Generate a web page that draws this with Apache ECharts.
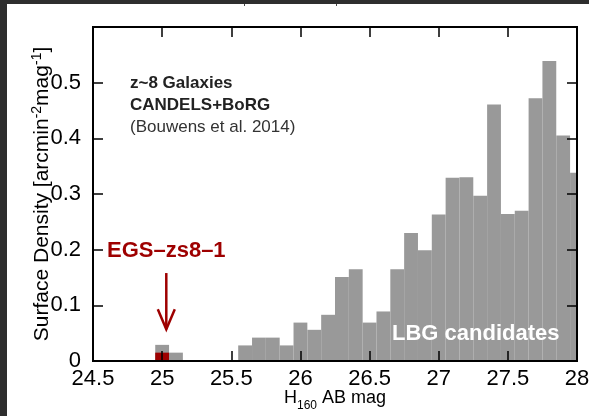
<!DOCTYPE html>
<html>
<head>
<meta charset="utf-8">
<script src="https://cdn.jsdelivr.net/npm/echarts@6/dist/echarts.min.js"></script>
<style>
  html, body { margin: 0; padding: 0; background: #ffffff; }
  #chart { width: 589px; height: 416px; }
</style>
</head>
<body>
<div id="chart"></div>
<script>
// Surface density of z~8 LBG candidates per 0.1 mag bin (CANDELS+BoRG)
const lbgMag = [25.0, 25.1, 25.6, 25.7, 25.8, 25.9, 26.0, 26.1, 26.2, 26.3, 26.4, 26.5, 26.6,
                26.7, 26.8, 26.9, 27.0, 27.1, 27.2, 27.3, 27.4, 27.5, 27.6, 27.7, 27.8, 27.9, 28.0];
const lbgDensity = [0.029, 0.015, 0.028, 0.042, 0.042, 0.028, 0.069, 0.056, 0.083, 0.151, 0.165, 0.069, 0.089,
                    0.165, 0.230, 0.199, 0.263, 0.329, 0.330, 0.297, 0.461, 0.264, 0.270, 0.472, 0.539, 0.405, 0.338];

// EGS-zs8-1 bin
const egsMag = [25.0];
const egsDensity = [0.015];

// Arrow pointing at EGS-zs8-1: [mag, density] start and end
const arrowFrom = [25.03, 0.158];
const arrowTo = [25.03, 0.057];
const egsLabelAt = [25.03, 0.198];

const binWidth = 0.1;
const xRange = [24.5, 28];
const xStep = 0.5;
const yRange = [0, 0.6];
const yStep = 0.1;

const FONT = "'Liberation Sans', Arial, Helvetica, sans-serif";
const RED = '#9e0000';
const GREY = '#999999';

function histogram(color) {
  return function (params, api) {
    const x = api.value(0);
    const y = api.value(1);
    const p0 = api.coord([x - binWidth / 2, y]);
    const p1 = api.coord([x + binWidth / 2, 0]);
    const cs = params.coordSys;
    const shape = echarts.graphic.clipRectByRect(
      { x: p0[0], y: p0[1], width: p1[0] - p0[0], height: p1[1] - p0[1] },
      { x: cs.x, y: cs.y, width: cs.width, height: cs.height }
    );
    return shape && { type: 'rect', shape: shape, style: { fill: color } };
  };
}

function arrowItem(params, api) {
  const a = api.coord(arrowFrom);
  const b = api.coord(arrowTo);
  const t = api.coord(egsLabelAt);
  const head = 20, wing = 8.5;
  return {
    type: 'group',
    children: [
      { type: 'line', shape: { x1: a[0], y1: a[1], x2: b[0], y2: b[1] },
        style: { stroke: RED, lineWidth: 2.5 } },
      { type: 'polyline', shape: { points: [[b[0] - wing, b[1] - head], [b[0], b[1]], [b[0] + wing, b[1] - head]] },
        style: { stroke: RED, lineWidth: 2.5, fill: null } },
      { type: 'text', x: t[0], y: t[1],
        style: { text: 'EGS\u2013zs8\u20131', fill: RED, font: 'bold 22px ' + FONT, align: 'center', verticalAlign: 'middle' } }
    ]
  };
}

const axisCommon = {
  axisLine: { show: true, onZero: false, lineStyle: { color: '#000', width: 2 } },
  axisTick: { show: true, inside: true, length: 10, lineStyle: { color: '#000', width: 1.5 } },
  splitLine: { show: false },
  nameMoveOverlap: false,
  z: 10
};

const chart = echarts.init(document.getElementById('chart'), null, { renderer: 'canvas' });

chart.setOption({
  animation: false,
  backgroundColor: '#ffffff',
  grid: {
    left: 93, right: 12, top: 27, bottom: 55, outerBoundsMode: 'none', containLabel: false,
    show: true, borderColor: '#000', borderWidth: 2, backgroundColor: 'transparent'
  },
  xAxis: [
    Object.assign({}, axisCommon, {
      type: 'value', min: xRange[0], max: xRange[1], interval: xStep, position: 'bottom',
      axisLabel: { color: '#000', fontSize: 22, fontFamily: FONT, margin: 7 },
      name: '{t|H}{s|160}{t| AB mag}', nameLocation: 'middle', nameGap: 28,
      nameTextStyle: {
        rich: {
          t: { fontSize: 18, fontFamily: FONT, color: '#000', lineHeight: 23, verticalAlign: 'top' },
          s: { fontSize: 12, fontFamily: FONT, color: '#000', lineHeight: 12, verticalAlign: 'bottom' }
        }
      }
    }),
    Object.assign({}, axisCommon, {
      type: 'value', min: xRange[0], max: xRange[1], interval: xStep, position: 'top',
      axisLabel: { show: false }
    })
  ],
  yAxis: [
    Object.assign({}, axisCommon, {
      type: 'value', min: yRange[0], max: yRange[1], interval: yStep, position: 'left',
      axisLabel: { color: '#000', fontSize: 22, fontFamily: FONT, margin: 12, showMaxLabel: false, verticalAlignMinLabel: 'middle' },
      name: '{t|Surface Density [arcmin}{s|-2}{t|mag}{s|-1}{t|]}', nameLocation: 'middle', nameGap: 40, nameRotate: 90,
      nameTextStyle: {
        rich: {
          t: { fontSize: 21, fontFamily: FONT, color: '#000', lineHeight: 23, verticalAlign: 'bottom' },
          s: { fontSize: 14, fontFamily: FONT, color: '#000', lineHeight: 14, verticalAlign: 'top' }
        }
      }
    }),
    Object.assign({}, axisCommon, {
      type: 'value', min: yRange[0], max: yRange[1], interval: yStep, position: 'right',
      axisLabel: { show: false }
    })
  ],
  series: [
    {
      type: 'custom', name: 'LBG candidates', renderItem: histogram(GREY), z: 2,
      data: lbgMag.map((m, i) => [m, lbgDensity[i]])
    },
    {
      type: 'custom', name: 'EGS-zs8-1', renderItem: histogram(RED), z: 3,
      data: egsMag.map((m, i) => [m, egsDensity[i]])
    },
    {
      type: 'custom', name: 'arrow', renderItem: arrowItem, z: 4, silent: true,
      data: [[arrowFrom[0], arrowFrom[1]]]
    }
  ],
  graphic: [
    { type: 'text', left: 130, top: 75, z: 20,
      style: { text: 'z~8 Galaxies', fill: '#222', font: 'bold 17px ' + FONT } },
    { type: 'text', left: 130, top: 97, z: 20,
      style: { text: 'CANDELS+BoRG', fill: '#222', font: 'bold 17px ' + FONT } },
    { type: 'text', left: 130, top: 119, z: 20,
      style: { text: '(Bouwens et al. 2014)', fill: '#333', font: '17px ' + FONT } },
    { type: 'text', left: 392, top: 323, z: 20,
      style: { text: 'LBG candidates', fill: '#ffffff', font: 'bold 22px ' + FONT } },
    // dark frame along the top and left edges
    { type: 'rect', left: 0, top: 0, z: 30, shape: { width: 589, height: 4 }, style: { fill: '#2e2e2e' } },
    { type: 'rect', left: 0, top: 0, z: 30, shape: { width: 7, height: 416 }, style: { fill: '#2e2e2e' } },
    { type: 'rect', left: 244, top: 4, z: 30, shape: { width: 1, height: 2 }, style: { fill: '#444' } },
    { type: 'rect', left: 336, top: 4, z: 30, shape: { width: 1, height: 2 }, style: { fill: '#444' } }
  ]
});
</script>
</body>
</html>
